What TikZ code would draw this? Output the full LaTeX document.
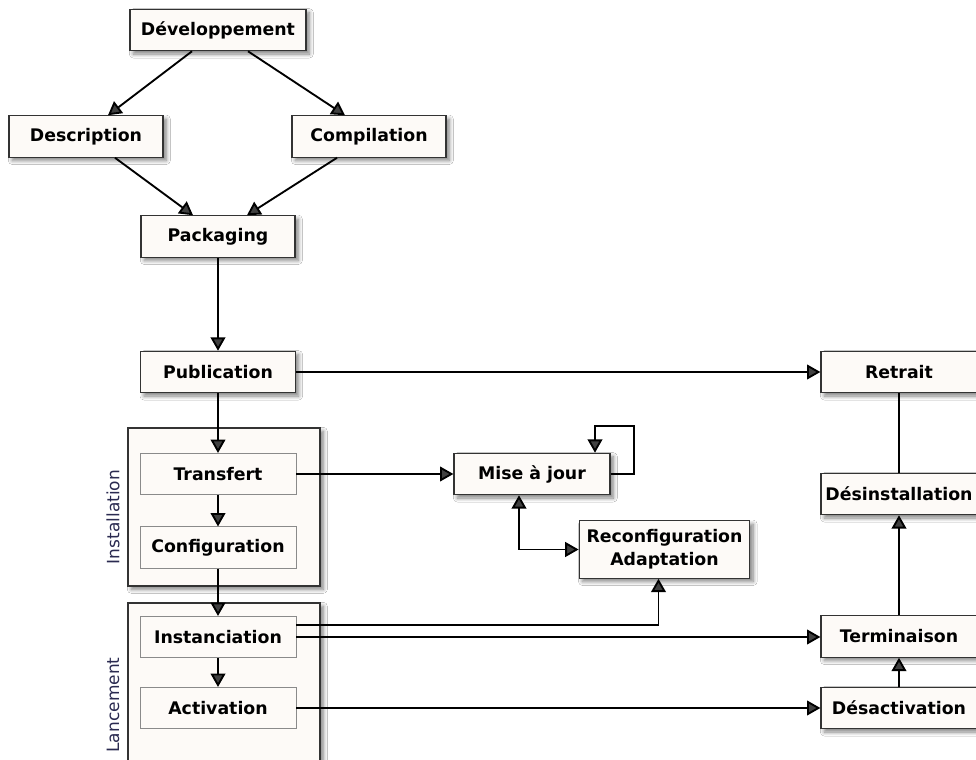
\documentclass[tikz,border=0pt]{standalone}
\usepackage{fontspec}
\setmainfont{DejaVu Sans}
\usetikzlibrary{arrows.meta,calc,shadows.blur}
\definecolor{boxfill}{HTML}{FDFAF7}
\definecolor{boxline}{HTML}{333333}
\definecolor{innerline}{HTML}{8A8A8A}
\definecolor{labelcol}{HTML}{2A2A50}
\tikzset{
  blk/.style={draw=boxline, line width=0.9pt, fill=boxfill, minimum height=31pt,
    font=\fontsize{13}{17}\selectfont\bfseries, align=center, inner sep=0pt,
    blur shadow={shadow xshift=2.5pt, shadow yshift=-2.5pt, shadow blur steps=8, shadow blur radius=3pt, shadow opacity=50}},
  inner/.style={draw=innerline, line width=0.6pt, fill=boxfill, minimum height=31pt, minimum width=117pt,
    font=\fontsize{13}{17}\selectfont\bfseries, inner sep=0pt},
  group/.style={draw=boxline, line width=0.9pt, fill=boxfill,
    blur shadow={shadow xshift=2.5pt, shadow yshift=-2.5pt, shadow blur steps=8, shadow blur radius=3pt, shadow opacity=50}},
  arr/.style={line width=1.4pt, -{Triangle[length=10pt,width=11pt]}},
  arrb/.style={line width=1.4pt, {Triangle[length=10pt,width=11pt]}-{Triangle[length=10pt,width=11pt]}},
  ln/.style={line width=1.4pt},
  side/.style={font=\fontsize{12.75}{15}\selectfont, text=labelcol, rotate=90}
}
\begin{document}
\begin{tikzpicture}[x=0.75pt,y=-0.75pt]
\useasboundingbox[fill=white] (0,0) rectangle (976,760);
% group containers
\path[group] (128,428) rectangle (320,586);
\path[group] (128,603) rectangle (320,800);
\node[side] (linst) at (113,517) {Installation};
\node[side] (llanc) at (113,705) {Lancement};
% main nodes
\node[blk, minimum width=132pt] (dev) at (218,30) {Développement};
\node[blk, minimum width=115.5pt] (desc) at (86,136.5) {Description};
\node[blk, minimum width=115.5pt] (comp) at (369,136.5) {Compilation};
\node[blk, minimum width=115.5pt] (pack) at (218,236.5) {Packaging};
\node[blk, minimum width=116pt] (pub) at (218,372) {Publication};
\node[blk, minimum width=117pt] (ret) at (899,372) {Retrait};
\node[inner] (tra) at (218,474) {Transfert};
\node[inner] (conf) at (218,547.5) {Configuration};
\node[inner] (inst) at (218,637) {Instanciation};
\node[inner] (act) at (218,708) {Activation};
\node[blk, minimum width=117pt] (maj) at (532,474) {Mise à jour};
\node[blk, minimum width=128pt, minimum height=43pt] (rec) at (664.5,549.5) {Reconfiguration\\Adaptation};
\node[blk, minimum width=117pt] (des) at (899,494) {Désinstallation};
\node[blk, minimum width=117pt] (ter) at (899,636.5) {Terminaison};
\node[blk, minimum width=117pt] (dac) at (899,708) {Désactivation};
% connectors
\draw[arr] ($(dev.south)+(-26,0)$) -- ($(desc.north)+(22,0)$);
\draw[arr] ($(dev.south)+(30,0)$) -- ($(comp.north)+(-24,0)$);
\draw[arr] ($(desc.south)+(29,0)$) -- ($(pack.north)+(-25,0)$);
\draw[arr] ($(comp.south)+(-32,0)$) -- ($(pack.north)+(29,0)$);
\draw[arr] (pack.south) -- (pack.south |- pub.north);
\draw[arr] (pub.east) -- (ret.west);
\draw[arr] (pub.south) -- (pub.south |- tra.north);
\draw[arr] (tra.south) -- (conf.north);
\draw[arr] (conf.south) -- (inst.north);
\draw[arr] (inst.south) -- (act.north);
\draw[arr] (tra.east) -- (tra.east -| maj.west);
\draw[arr] (maj.east) -- ++(23,0) -- ++(0,-48) -| ($(maj.north)+(63,0)$);
\draw[arrb] ($(maj.south)+(-13,0)$) |- (rec.west);
\draw[arr] ($(inst.east)+(0,-12)$) -| ($(rec.south)+(-6,0)$);
\draw[arr] (inst.east) -- (inst.east -| ter.west);
\draw[arr] (act.east) -- (act.east -| dac.west);
\draw[arr] (dac.north) -- (ter.south);
\draw[arr] (ter.north) -- (des.south);
\draw[ln] (ret.south) -- (des.north);
\end{tikzpicture}
\end{document}
